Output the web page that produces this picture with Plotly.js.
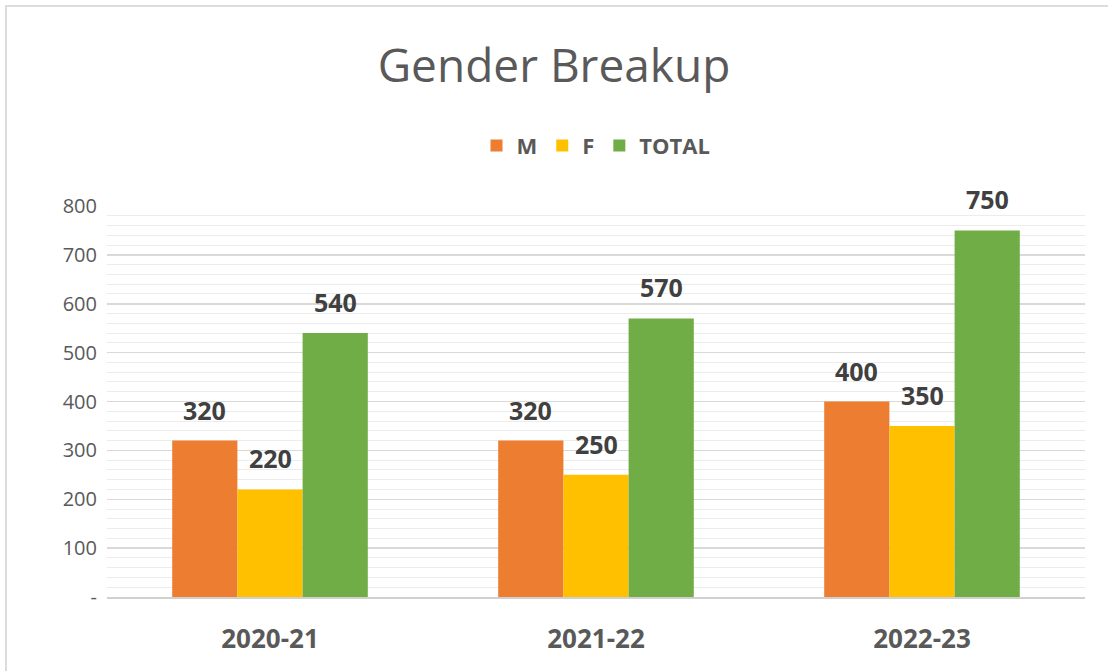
<!DOCTYPE html>
<html>
<head>
<meta charset="utf-8">
<script src="https://cdn.plot.ly/plotly-3.0.1.min.js"></script>
<style>
  html, body { margin: 0; padding: 0; background: #fff; }
  #wrap { position: relative; width: 1108px; height: 671px; overflow: hidden; }
  #frame { position: absolute; left: 5px; top: 5px; width: 1120px; height: 700px; border: 2px solid #dcdcdc; box-sizing: border-box; }
  #chart { position: absolute; left: 0; top: 0; width: 1108px; height: 671px; }
</style>
</head>
<body>
<div id="wrap">
  <div id="frame"></div>
  <div id="chart"></div>
</div>
<script>
const categories = ["2020-21", "2021-22", "2022-23"];
const seriesNames = ["M", "F", "TOTAL"];
const mValues = [320, 320, 400];
const fValues = [220, 250, 350];
const totalValues = [540, 570, 750];
const yTickValues = [0, 100, 200, 300, 400, 500, 600, 700, 800];
const yTickLabels = ["-", "100", "200", "300", "400", "500", "600", "700", "800"];

const colors = ["#ED7D31", "#FFC000", "#70AD47"];
const allValues = [mValues, fValues, totalValues];
const FONT = "Open Sans, sans-serif";

const traces = allValues.map((vals, k) => ({
  type: "bar",
  name: seriesNames[k],
  x: categories,
  y: vals,
  marker: { color: colors[k] },
  hoverinfo: "x+y+name"
}));

const bargap = 0.4;
const barW = (1 - bargap) / allValues.length;
const annotations = [];
allValues.forEach((vals, k) => {
  vals.forEach((v, i) => {
    annotations.push({
      x: i + (k - 1) * barW,
      y: v,
      xref: "x", yref: "y",
      text: String(v),
      showarrow: false,
      yanchor: "middle",
      yshift: 31,
      font: { family: FONT, size: 25, color: "#404040", weight: "bold" }
    });
  });
});

const layout = {
  width: 1108,
  height: 671,
  paper_bgcolor: "rgba(0,0,0,0)",
  plot_bgcolor: "rgba(0,0,0,0)",
  margin: { l: 107, r: 23, t: 206, b: 74 },
  title: {
    text: "Gender Breakup",
    x: 0.5, xanchor: "center",
    y: 0.902, yanchor: "middle",
    yref: "container",
    font: { family: FONT, size: 46, color: "#595959" }
  },
  barmode: "group",
  bargap: bargap,
  bargroupgap: 0,
  showlegend: true,
  legend: {
    orientation: "h",
    x: 0.5, xanchor: "center",
    y: 0.783, yanchor: "middle", yref: "container",
    font: { family: FONT, size: 22, color: "#595959", weight: "bold" },
    itemwidth: 30,
    traceorder: "normal"
  },
  xaxis: {
    type: "category",
    showgrid: false,
    showline: true,
    linecolor: "#d0d0d0",
    linewidth: 1.5,
    ticks: "",
    tickfont: { family: FONT, size: 26, color: "#595959", weight: "bold" },
    ticklabelstandoff: 18
  },
  yaxis: {
    range: [0, 800],
    tickvals: yTickValues,
    ticktext: yTickLabels,
    showgrid: true,
    gridcolor: "#d9d9d9",
    gridwidth: 1.5,
    zeroline: false,
    showline: false,
    ticks: "",
    tickfont: { family: FONT, size: 20, color: "#595959" },
    ticklabelstandoff: 9,
    minor: { dtick: 20, showgrid: true, gridcolor: "#ececec", gridwidth: 1 }
  },
  annotations: annotations
};

Plotly.newPlot("chart", traces, layout, { displayModeBar: false, staticPlot: true });
</script>
</body>
</html>
